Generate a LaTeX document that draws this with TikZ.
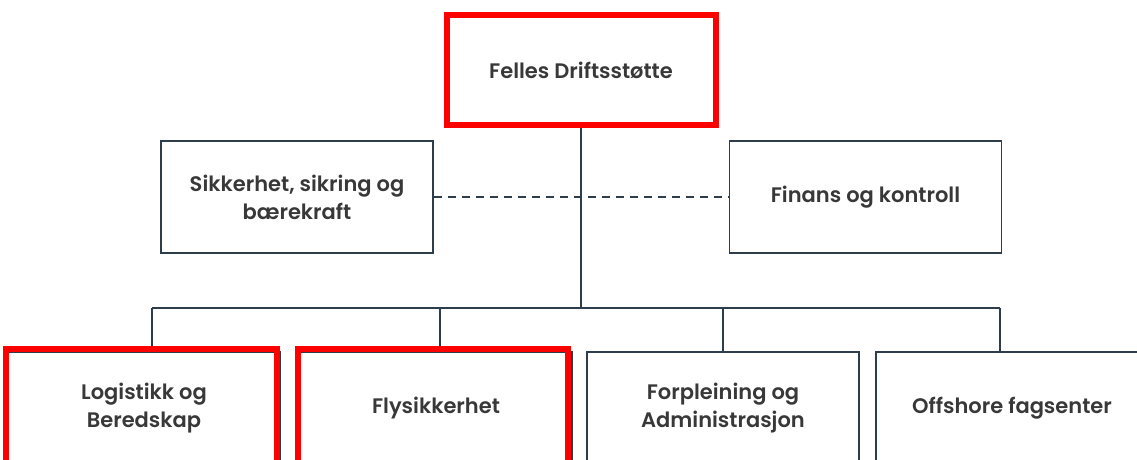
\documentclass[tikz,border=0pt]{standalone}
\usepackage{fontspec}
\setmainfont{Poppins}[BoldFont={Poppins SemiBold}]
\usepackage{xcolor}
\definecolor{linegray}{HTML}{2E3D4B}
\definecolor{textgray}{HTML}{383838}
\definecolor{markred}{HTML}{FF0000}
\tikzset{
  unit/.style={draw=linegray, line width=0.8pt, minimum width=136pt, minimum height=56pt,
    align=center, text=textgray, font=\bfseries\fontsize{10.5}{14}\selectfont, inner sep=0pt},
  redmark/.style={draw=markred, line width=3pt},
  link/.style={draw=linegray, line width=0.8pt}
}
\begin{document}
\begin{tikzpicture}[x=0.5pt,y=-0.5pt]
    \useasboundingbox (0,0) rectangle (1137,460);
    \clip (0,0) rectangle (1137,460);
    \node[unit, redmark, minimum width=134.5pt, minimum height=55pt] (fds) at (581,70) {Felles Driftsstøtte};
    \node[unit] (sik) at (297,197) {Sikkerhet, sikring og\\bærekraft};
    \node[unit] (fin) at (865.5,197) {Finans og kontroll};
    \node[unit] (log) at (144,408) {Logistikk og\\Beredskap};
    \node[unit] (fly) at (436,408) {Flysikkerhet};
    \node[unit] (forp) at (723,408) {Forpleining og\\Administrasjon};
    \node[unit] (off) at (1012,408) {Offshore fagsenter};
    \coordinate (bus) at (581,308);
    \coordinate (busL) at (152,308);
    \coordinate (busR) at (1000,308);
    \coordinate (d2) at (440,308);
    \coordinate (d3) at (723,308);
    \draw[link, dash pattern=on 4pt off 3pt] (sik) -- (fin);
    \draw[link] (fds.south) -- (bus);
    \draw[link] (busL) -- (busR);
    \draw[link] (busL) -- (busL |- log.north);
    \draw[link] (d2) -- (d2 |- fly.north);
    \draw[link] (d3) -- (d3 |- forp.north);
    \draw[link] (busR) -- (busR |- off.north);
    \draw[redmark] ([xshift=-0.5pt,yshift=1pt]log.north west) rectangle ([xshift=-2pt]log.south east);
    \draw[redmark] ([xshift=-0.5pt,yshift=1pt]fly.north west) rectangle ([xshift=-2.5pt]fly.south east);
  \end{tikzpicture}
\end{document}
